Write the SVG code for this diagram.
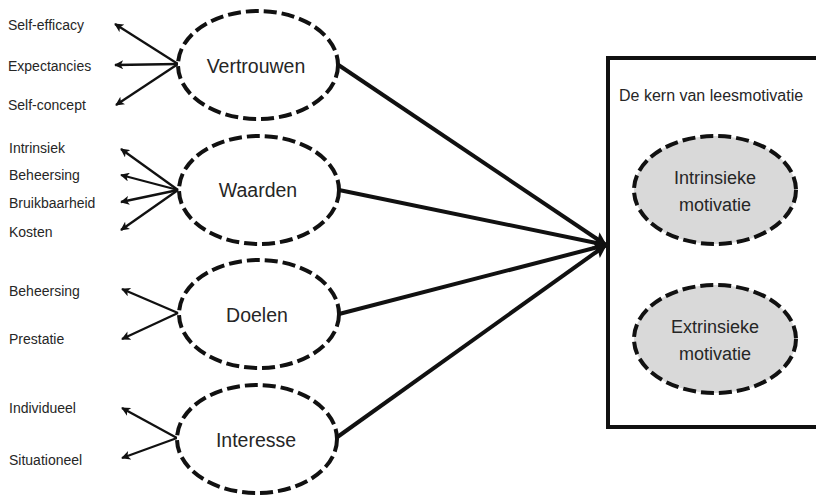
<svg xmlns="http://www.w3.org/2000/svg" width="816" height="496" viewBox="0 0 816 496">
  <defs>
    <marker id="tipSmall" viewBox="0 0 10 10" refX="9" refY="5" markerWidth="10" markerHeight="9" markerUnits="userSpaceOnUse" orient="auto">
      <path d="M0,0 L10,5 L0,10 L2.5,5 Z" fill="#111"/>
    </marker>
    <marker id="tipBig" viewBox="0 0 10 10" refX="9" refY="5" markerWidth="16" markerHeight="14" markerUnits="userSpaceOnUse" orient="auto">
      <path d="M0,0 L10,5 L0,10 L2,5 Z" fill="#111"/>
    </marker>
  </defs>
  <style>
    .factor { fill: #fff; stroke: #111; stroke-width: 4; stroke-dasharray: 13 5; }
    .core { fill: #d9d9d9; stroke: #111; stroke-width: 4; stroke-dasharray: 13 5; }
    .sub { stroke: #111; stroke-width: 2.3; fill: none; marker-end: url(#tipSmall); }
    .main { stroke: #111; stroke-width: 4; fill: none; marker-end: url(#tipBig); }
    .lbl { font-family: "Liberation Sans", Arial, sans-serif; font-size: 14px; fill: #262626; dominant-baseline: central; }
    .name { font-family: "Liberation Sans", Arial, sans-serif; font-size: 19.5px; fill: #262626; text-anchor: middle; dominant-baseline: central; }
    .core-name { font-family: "Liberation Sans", Arial, sans-serif; font-size: 18px; fill: #262626; text-anchor: middle; dominant-baseline: central; }
    .title { font-family: "Liberation Sans", Arial, sans-serif; font-size: 16px; fill: #262626; dominant-baseline: central; }
  </style>
  <rect width="816" height="496" fill="#fff"/>

  <!-- connectors -->
  <g id="connectors">
    <!-- Vertrouwen sub-dimensions -->
    <line class="sub" x1="178" y1="64" x2="115" y2="24"/>
    <line class="sub" x1="178" y1="64" x2="115" y2="65"/>
    <line class="sub" x1="178" y1="64" x2="116" y2="105"/>
    <!-- Waarden sub-dimensions -->
    <line class="sub" x1="178" y1="190" x2="121" y2="149"/>
    <line class="sub" x1="178" y1="190" x2="121" y2="175"/>
    <line class="sub" x1="178" y1="190" x2="121" y2="202"/>
    <line class="sub" x1="178" y1="190" x2="121" y2="230"/>
    <!-- Doelen sub-dimensions -->
    <line class="sub" x1="178" y1="313" x2="122" y2="289"/>
    <line class="sub" x1="178" y1="313" x2="122" y2="339"/>
    <!-- Interesse sub-dimensions -->
    <line class="sub" x1="177" y1="438" x2="122" y2="408"/>
    <line class="sub" x1="177" y1="438" x2="122" y2="458"/>
    <!-- factors to the core of reading motivation -->
    <line class="main" x1="337" y1="64" x2="606" y2="245"/>
    <line class="main" x1="339" y1="190" x2="606" y2="245"/>
    <line class="main" x1="339" y1="314" x2="606" y2="245"/>
    <line class="main" x1="336" y1="438" x2="606" y2="245"/>
  </g>

  <!-- sub-dimension labels -->
  <g id="labels">
    <text class="lbl" x="8" y="25">Self-efficacy</text>
    <text class="lbl" x="8" y="66">Expectancies</text>
    <text class="lbl" x="8" y="105">Self-concept</text>
    <text class="lbl" x="9" y="148">Intrinsiek</text>
    <text class="lbl" x="9" y="175">Beheersing</text>
    <text class="lbl" x="9" y="203">Bruikbaarheid</text>
    <text class="lbl" x="9" y="232">Kosten</text>
    <text class="lbl" x="9" y="291">Beheersing</text>
    <text class="lbl" x="9" y="339">Prestatie</text>
    <text class="lbl" x="9" y="408">Individueel</text>
    <text class="lbl" x="9" y="460">Situationeel</text>
  </g>

  <g id="vertrouwen">
    <ellipse class="factor" cx="258" cy="65" rx="80" ry="54"/>
    <text class="name" x="256" y="66">Vertrouwen</text>
  </g>
  <g id="waarden">
    <ellipse class="factor" cx="259" cy="190" rx="80" ry="54"/>
    <text class="name" x="258" y="190">Waarden</text>
  </g>
  <g id="doelen">
    <ellipse class="factor" cx="259" cy="314" rx="80" ry="54"/>
    <text class="name" x="257" y="315">Doelen</text>
  </g>
  <g id="interesse">
    <ellipse class="factor" cx="257" cy="439" rx="80" ry="54"/>
    <text class="name" x="256" y="440">Interesse</text>
  </g>

  <g id="kern">
    <rect x="608" y="58" width="230" height="369" fill="none" stroke="#111" stroke-width="4"/>
    <text class="title" x="619" y="95">De kern van leesmotivatie</text>
  </g>
  <g id="intrinsieke">
    <ellipse class="core" cx="715" cy="190" rx="81" ry="54"/>
    <text class="core-name" x="715" y="178">Intrinsieke</text>
    <text class="core-name" x="715" y="205">motivatie</text>
  </g>
  <g id="extrinsieke">
    <ellipse class="core" cx="715" cy="339" rx="81" ry="54"/>
    <text class="core-name" x="715" y="327">Extrinsieke</text>
    <text class="core-name" x="715" y="354">motivatie</text>
  </g>
</svg>
